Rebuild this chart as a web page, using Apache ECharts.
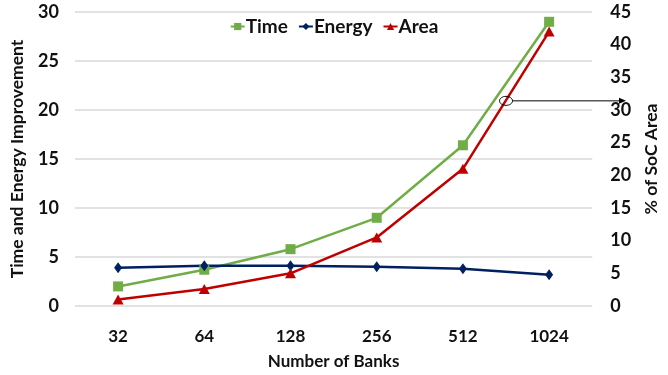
<!DOCTYPE html>
<html>
<head>
<meta charset="utf-8">
<script src="https://cdn.jsdelivr.net/npm/echarts@6/dist/echarts.min.js"></script>
<style>
  html, body { margin: 0; padding: 0; background: #fff; }
  #chart { width: 668px; height: 375px; }
</style>
</head>
<body>
<div id="chart"></div>
<script>
// Bank counts on the x axis
const banks = ['32', '64', '128', '256', '512', '1024'];
// Improvement factors (left axis)
const timeImprovement = [2.0, 3.7, 5.8, 9.0, 16.4, 29.0];
const energyImprovement = [3.9, 4.1, 4.1, 4.0, 3.8, 3.2];
// Share of SoC area in percent (right axis)
const areaPercent = [1.0, 2.6, 5.0, 10.5, 21.0, 42.0];
// Callout: point on the area curve that points at the right axis
const calloutIndex = 4.5;
const calloutValue = 31.4;

const FONT = 'Lato, "Open Sans", sans-serif';
const TXT = '#111111';

const chart = echarts.init(document.getElementById('chart'), null, { renderer: 'canvas' });

chart.setOption({
  animation: false,
  backgroundColor: '#ffffff',
  textStyle: { fontFamily: FONT },
  grid: { left: 69, right: 60, top: 12, bottom: 67, containLabel: false },
  legend: {
    top: 12,
    left: 'center',
    itemWidth: 14,
    itemHeight: 9,
    itemGap: 10,
    textStyle: { fontFamily: FONT, fontWeight: 'bold', fontSize: 19, color: TXT, padding: [0, 0, 0, -4] },
    data: ['Time', 'Energy', 'Area']
  },
  xAxis: {
    type: 'category',
    data: banks,
    boundaryGap: true,
    axisLine: { show: false },
    axisTick: { show: false },
    axisLabel: { fontFamily: FONT, fontWeight: 'bold', fontSize: 17, color: TXT, margin: 22 },
    name: 'Number of Banks',
    nameLocation: 'middle',
    nameGap: 47,
    nameTextStyle: { fontFamily: FONT, fontWeight: 'bold', fontSize: 17, color: TXT }
  },
  yAxis: [
    {
      type: 'value',
      min: 0, max: 30, interval: 5,
      axisLine: { show: false },
      axisTick: { show: false },
      splitLine: { lineStyle: { color: '#d9d9d9', width: 1.5 } },
      axisLabel: { fontFamily: FONT, fontWeight: 'bold', fontSize: 18, color: TXT, margin: 16 },
      name: 'Time and Energy Improvement',
      nameLocation: 'middle',
      nameGap: 49,
      nameRotate: 90,
      nameTextStyle: { fontFamily: FONT, fontWeight: 'bold', fontSize: 17.5, color: TXT }
    },
    {
      type: 'value',
      min: 0, max: 45, interval: 5,
      axisLine: { show: false },
      axisTick: { show: false },
      splitLine: { show: false },
      axisLabel: { fontFamily: FONT, fontWeight: 'bold', fontSize: 18, color: TXT, margin: 18 },
      name: '% of SoC Area',
      nameLocation: 'middle',
      nameGap: 47,
      nameRotate: 90,
      nameTextStyle: { fontFamily: FONT, fontWeight: 'bold', fontSize: 17.5, color: TXT }
    }
  ],
  series: [
    {
      name: 'Time', type: 'line', yAxisIndex: 0, data: timeImprovement,
      symbol: 'rect', symbolSize: 10,
      lineStyle: { color: '#70ad47', width: 2.5 },
      itemStyle: { color: '#70ad47' }
    },
    {
      name: 'Energy', type: 'line', yAxisIndex: 0, data: energyImprovement,
      symbol: 'diamond', symbolSize: [8, 11],
      lineStyle: { color: '#002060', width: 2.5 },
      itemStyle: { color: '#002060' }
    },
    {
      name: 'Area', type: 'line', yAxisIndex: 1, data: areaPercent,
      symbol: 'triangle', symbolSize: [11, 10],
      lineStyle: { color: '#c00000', width: 2.5 },
      itemStyle: { color: '#c00000' }
    }
  ]
});

// Callout ellipse on the area curve with an arrow to the right-hand axis
function drawCallout() {
  const lo = Math.floor(calloutIndex), hi = Math.ceil(calloutIndex);
  const xLo = chart.convertToPixel({ xAxisIndex: 0 }, lo);
  const xHi = chart.convertToPixel({ xAxisIndex: 0 }, hi);
  const cx = xLo + (xHi - xLo) * (calloutIndex - lo);
  const cy = chart.convertToPixel({ yAxisIndex: 1 }, calloutValue);
  const w = chart.getWidth();
  chart.setOption({
    graphic: [
      { type: 'ellipse', shape: { cx: cx, cy: cy, rx: 6.5, ry: 4.5 },
        style: { fill: 'none', stroke: '#000', lineWidth: 1 }, z: 100 },
      { type: 'line', shape: { x1: cx + 6.5, y1: cy, x2: w - 46, y2: cy },
        style: { stroke: '#000', lineWidth: 1 }, z: 100 },
      { type: 'polygon', shape: { points: [[w - 42, cy], [w - 49, cy - 3], [w - 49, cy + 3]] },
        style: { fill: '#000' }, z: 100 }
    ]
  });
}
drawCallout();
</script>
</body>
</html>
